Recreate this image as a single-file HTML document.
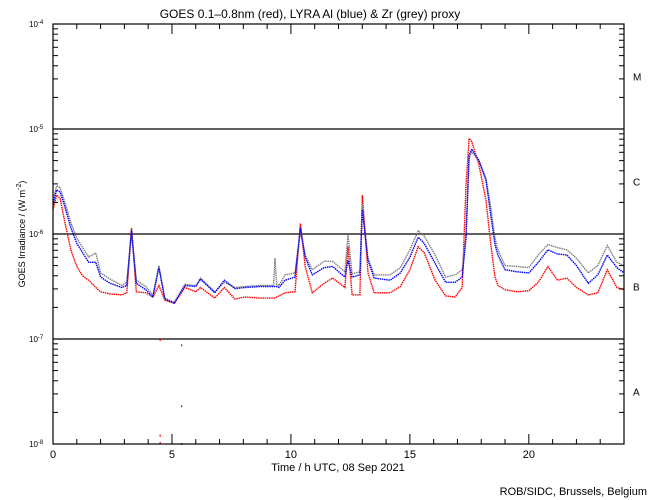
<!DOCTYPE html>
<html><head><meta charset="utf-8"><style>
html,body{margin:0;padding:0;background:#fff;}
svg{display:block;font-family:"Liberation Sans",sans-serif;}
</style></head><body>
<svg id="chart" width="650" height="500" viewBox="0 0 650 500">
<text x="310" y="18" font-size="12" text-anchor="middle">GOES 0.1–0.8nm (red), LYRA Al (blue) &amp; Zr (grey) proxy</text>
<text transform="translate(25,234) rotate(-90)" font-size="9" text-anchor="middle">GOES Irradiance / (W m<tspan dy="-4" font-size="7">-2</tspan><tspan dy="4">)</tspan></text>
<text x="338" y="471" font-size="11" text-anchor="middle">Time / h UTC, 08 Sep 2021</text>
<text x="647" y="495" font-size="11" text-anchor="end">ROB/SIDC, Brussels, Belgium</text>
<g id="grid"></g><g id="series"></g><g id="axes"></g>
</svg>
<script>
const times=[0,0.15,0.3,0.5,0.75,1,1.25,1.5,1.8,2,2.4,2.9,3.1,3.3,3.5,3.9,4.2,4.45,4.7,5.1,5.55,6,6.2,6.8,7.2,7.65,8.07,8.7,9.27,9.33,9.4,9.5,9.75,10.17,10.4,10.6,10.9,11.4,11.75,12.27,12.4,12.57,12.9,13,13.24,13.5,14.17,14.6,15,15.35,15.6,16.06,16.5,16.9,17.2,17.36,17.49,17.6,17.9,18.2,18.4,18.58,18.7,19,19.5,20,20.4,20.8,21.2,21.6,22,22.5,22.9,23.3,23.7,24];
const redLog=[-5.77,-5.63,-5.66,-5.89,-6.15,-6.31,-6.40,-6.44,-6.51,-6.55,-6.57,-6.58,-6.56,-5.94,-6.55,-6.56,-6.60,-6.49,-6.63,-6.66,-6.51,-6.55,-6.51,-6.61,-6.51,-6.62,-6.60,-6.61,-6.61,-6.61,-6.60,-6.59,-6.56,-6.55,-5.90,-6.31,-6.56,-6.47,-6.42,-6.51,-6.12,-6.58,-6.58,-5.63,-6.37,-6.56,-6.56,-6.50,-6.34,-6.12,-6.18,-6.44,-6.59,-6.60,-6.51,-5.54,-5.09,-5.12,-5.34,-5.68,-6.10,-6.41,-6.49,-6.53,-6.55,-6.54,-6.46,-6.31,-6.44,-6.42,-6.51,-6.58,-6.56,-6.34,-6.51,-6.53];
const blueLog=[-5.72,-5.58,-5.60,-5.74,-5.94,-6.09,-6.18,-6.27,-6.27,-6.41,-6.47,-6.51,-6.49,-5.96,-6.47,-6.53,-6.60,-6.32,-6.62,-6.66,-6.49,-6.50,-6.43,-6.56,-6.44,-6.52,-6.51,-6.50,-6.50,-6.50,-6.50,-6.51,-6.44,-6.41,-5.94,-6.22,-6.39,-6.32,-6.31,-6.41,-6.25,-6.41,-6.39,-5.77,-6.25,-6.42,-6.44,-6.37,-6.22,-6.03,-6.09,-6.28,-6.46,-6.46,-6.41,-6.04,-5.25,-5.19,-5.30,-5.49,-5.82,-6.10,-6.20,-6.34,-6.36,-6.37,-6.27,-6.15,-6.19,-6.20,-6.30,-6.47,-6.39,-6.20,-6.32,-6.37];
const greyLog=[-5.68,-5.54,-5.56,-5.70,-5.89,-6.04,-6.13,-6.22,-6.18,-6.37,-6.43,-6.49,-6.46,-5.99,-6.44,-6.50,-6.58,-6.30,-6.61,-6.65,-6.48,-6.49,-6.42,-6.55,-6.46,-6.51,-6.50,-6.49,-6.49,-6.23,-6.48,-6.49,-6.39,-6.37,-5.98,-6.20,-6.34,-6.26,-6.26,-6.36,-6.01,-6.38,-6.36,-5.72,-6.23,-6.39,-6.39,-6.32,-6.15,-5.97,-6.02,-6.20,-6.41,-6.39,-6.34,-6.01,-5.28,-5.22,-5.30,-5.47,-5.75,-6.04,-6.15,-6.30,-6.31,-6.32,-6.20,-6.10,-6.13,-6.15,-6.23,-6.37,-6.30,-6.11,-6.27,-6.30];
const outlierTimes=[4.5,4.5,4.5,5.4,5.4,5.4];
const outlierLog=[-7.01,-7.92,-7.99,-7.06,-7.64,-8.0];
const xTickLabels=["0","5","10","15","20"];
const yDecades=[-4,-5,-6,-7,-8];
const classLabels=["M","C","B","A"];

const NS="http://www.w3.org/2000/svg";
const L=53,R=624,T=24,B=444;
const xs=t=>L+(R-L)*t/24;
const ys=lg=>T+(B-T)*(-4-lg)/4;
function mk(parent,tag,attrs){const e=document.createElementNS(NS,tag);for(const k in attrs)e.setAttribute(k,attrs[k]);document.getElementById(parent).appendChild(e);return e;}

[-5,-6,-7].forEach(d=>{const l=mk('grid','line',{x1:L,x2:R,y1:ys(d),y2:ys(d),stroke:'#000','stroke-width':1.2});

});

const series=[[redLog,'#f00','goes-red-series'],[greyLog,'#808080','lyra-zr-grey-series'],[blueLog,'#00f','lyra-al-blue-series']];
series.forEach(([arr,col,name])=>{
 const p=mk('series','polyline',{points:times.map((t,i)=>xs(t).toFixed(1)+','+ys(arr[i]).toFixed(1)).join(' '),fill:'none',stroke:col,'stroke-width':1.4,'stroke-dasharray':'1.5 0.7'});
 
 
});
outlierTimes.forEach((t,i)=>{const r=mk('series','rect',{x:xs(t)-0.5,y:ys(outlierLog[i])-1,width:1.2,height:2,fill:'#f00'});

});

const f=mk('axes','rect',{x:L,y:T,width:R-L,height:B-T,fill:'none',stroke:'#000','stroke-width':1.2});


for(let h=0;h<=24;h++){const big=h%5===0,len=big?10:5;
 mk('axes','line',{x1:xs(h),x2:xs(h),y1:B,y2:B-len,stroke:'#000'});
 mk('axes','line',{x1:xs(h),x2:xs(h),y1:T,y2:T+len,stroke:'#000'});}
xTickLabels.forEach(s=>{const t=mk('axes','text',{x:xs(+s),y:458,'font-size':11,'text-anchor':'middle'});t.textContent=s;

});
yDecades.forEach(d=>{
 const y=ys(d);
 mk('axes','line',{x1:L,x2:L+10,y1:y,y2:y,stroke:'#000'});
 mk('axes','line',{x1:R,x2:R-10,y1:y,y2:y,stroke:'#000'});
 const t=mk('axes','text',{x:29,y:y+3,'font-size':8});
 t.innerHTML='10<tspan dy="-3" font-size="6">'+d+'</tspan>';
 
 
 if(d>-8)for(let m=2;m<=9;m++){const yy=ys(d-1+Math.log10(m));
  mk('axes','line',{x1:L,x2:L+5,y1:yy,y2:yy,stroke:'#000'});
  mk('axes','line',{x1:R,x2:R-5,y1:yy,y2:yy,stroke:'#000'});}
});
classLabels.forEach((c,i)=>{const t=mk('axes','text',{x:633,y:ys(-4.5-i)+4,'font-size':10});t.textContent=c;

});
</script>
</body></html>
